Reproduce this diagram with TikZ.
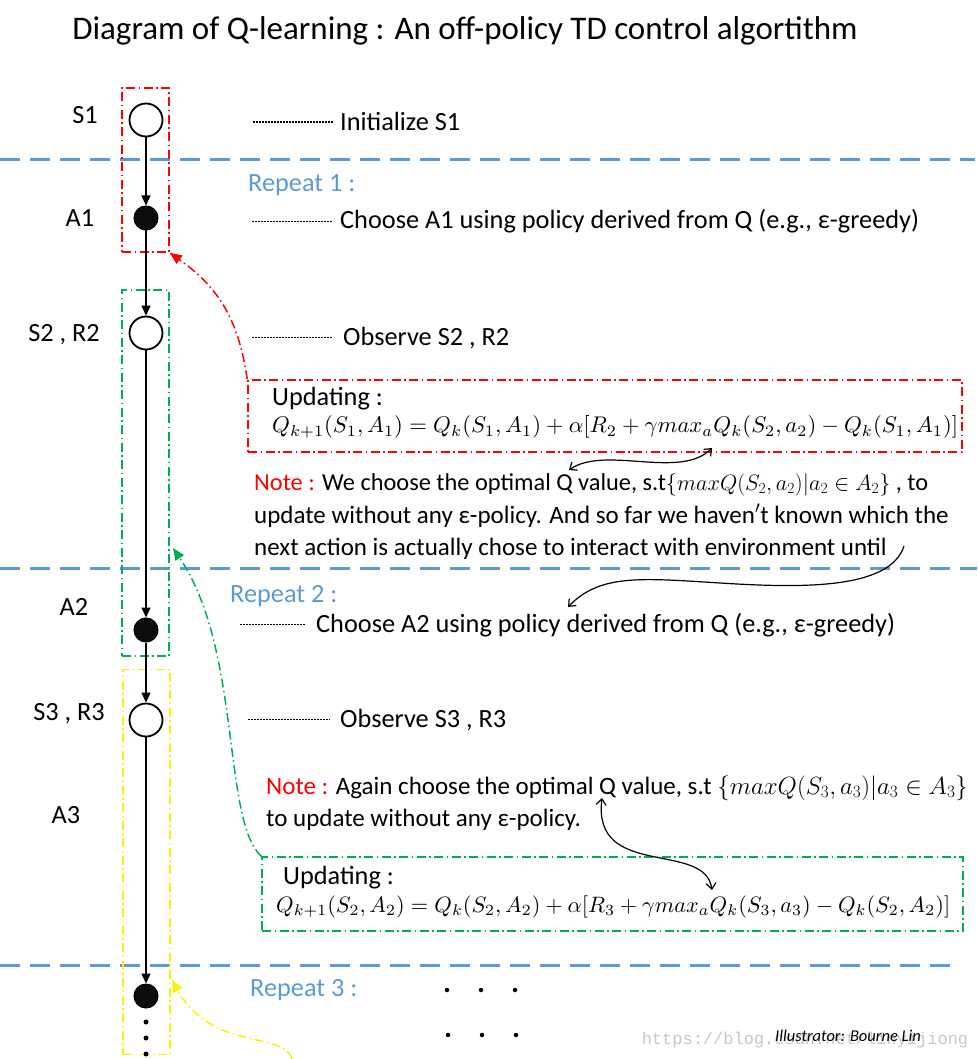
\documentclass[tikz,border=0pt]{standalone}
\usepackage{fontspec}
\setmainfont{Carlito}
\newfontfamily\wmfont{Liberation Mono}
\usetikzlibrary{arrows.meta,calc}
\definecolor{sepblue}{RGB}{91,155,213}
\definecolor{boxred}{RGB}{255,0,0}
\definecolor{boxgreen}{RGB}{0,176,80}
\definecolor{boxyellow}{RGB}{255,240,0}
\tikzset{
  snode/.style={circle, draw, line width=1.8pt, fill=white, minimum size=33pt, inner sep=0pt},
  anode/.style={circle, draw, line width=1pt, fill=black!95, minimum size=24pt, inner sep=0pt},
  dotn/.style={circle, fill=black, minimum size=5pt, inner sep=0pt},
  flow/.style={-{Triangle[length=10pt,width=9pt]}, line width=1.3pt},
  dashdot/.style={dash pattern=on 9pt off 3.5pt on 1.5pt off 3.5pt, line width=1.5pt},
  sepline/.style={draw=sepblue, dash pattern=on 20pt off 10pt, line width=3pt},
  txt/.style={anchor=base west, inner sep=0pt, font=\fontsize{26.3}{30}\selectfont},
  ntxt/.style={anchor=base west, inner sep=0pt, font=\fontsize{25}{29}\selectfont},
  lab/.style={anchor=base, inner sep=0pt, font=\fontsize{26.3}{30}\selectfont},
  leader/.style={dash pattern=on 1.5pt off 1.5pt, line width=1.1pt},
  curv/.style={line width=1.2pt},
  barbs/.style={{Straight Barb[length=6pt,width=10pt]}-{Straight Barb[length=6pt,width=10pt]}},
  barbe/.style={-{Straight Barb[length=6pt,width=10pt]}},
  fb/.style={dashdot, draw=#1, -{Triangle[length=12pt,width=10pt,fill=#1]}},
}
\begin{document}
\begin{tikzpicture}[x=1pt,y=-1pt]
\useasboundingbox (0,0) rectangle (977,1059);

% title
\node[font=\fontsize{33}{38}\selectfont] (title) at (465,31) {Diagram of Q-learning : An off-policy TD control algortithm};

% separators
\coordinate (sepAl) at (0,160); \coordinate (sepAr) at (975,160);
\coordinate (sepBl) at (0,568); \coordinate (sepBr) at (977,568);
\coordinate (sepCl) at (0,965); \coordinate (sepCr) at (955,965);
\draw[sepline] (sepAl) -- (sepAr);
\draw[sepline] (sepBl) -- (sepBr);
\draw[sepline] (sepCl) -- (sepCr);

% left boxes
\node[draw=boxred, dashdot, minimum width=47pt, minimum height=164pt, inner sep=0pt] (rbox) at (145.5,170) {};
\node[draw=boxgreen, dashdot, minimum width=47pt, minimum height=366pt, inner sep=0pt] (gbox) at (145.5,473) {};
\node[draw=boxyellow, dashdot, minimum width=47pt, minimum height=385pt, inner sep=0pt] (ybox) at (146.5,862) {};

% chain
\node[snode] (s1) at (146,120) {};
\node[anode] (a1) at (146,218) {};
\node[snode] (s2) at (146,333) {};
\node[anode] (a2) at (146,630) {};
\node[snode] (s3) at (146,720) {};
\node[anode] (a4) at (146,996) {};
\node[dotn] (d1) at (146,1022) {};
\node[dotn] (d2) at (146,1038) {};
\node[dotn] (d3) at (146,1054) {};
\draw[flow] (s1) -- (a1);
\draw[flow] (a1) -- (s2);
\draw[flow] (s2) -- (a2);
\draw[flow] (a2) -- (s3);
\draw[flow] (s3) -- (a4);

% left labels
\node[lab] (ls1) at (85,123.5) {S1};
\node[lab] (la1) at (80,226.5) {A1};
\node[lab] (ls2) at (64,341.5) {S2 , R2};
\node[lab] (la2) at (74,615.5) {A2};
\node[lab] (ls3) at (69,720.5) {S3 , R3};
\node[lab] (la3) at (66,823.5) {A3};

% right texts
\node[txt] (init) at (340,131) {Initialize S1};
\draw[leader] ([xshift=-87pt]init.west) -- ([xshift=-7pt]init.west);
\node[txt, text=sepblue] (rep1) at (248,192) {Repeat 1 :};
\node[txt] (ch1) at (340,228.5) {Choose A1 using policy derived from Q (e.g., ε-greedy)};
\draw[leader] ([xshift=-88pt]ch1.west) -- ([xshift=-7pt]ch1.west);
\node[txt] (obs2) at (343,345) {Observe S2 , R2};
\draw[leader] ([xshift=-91pt]obs2.west) -- ([xshift=-10pt]obs2.west);

% update box 1
\node[draw=boxred, dashdot, minimum width=714pt, minimum height=72pt, inner sep=0pt] (upd1) at (605,416) {};
\node[txt] (u1t) at (272,405) {Updating :};
\node[anchor=west, inner sep=0pt] (f1) at (272,427) {\resizebox{686pt}{!}{$Q_{k+1}(S_1,A_1)=Q_k(S_1,A_1)+\alpha[R_2+\gamma max_aQ_k(S_2,a_2)-Q_k(S_1,A_1)]$}};

% note 1
\node[ntxt] (n1a) at (254,490) {\resizebox{674pt}{!}{\textcolor{boxred}{Note :} We choose the optimal Q value, s.t\scalebox{0.92}{$\{maxQ(S_2,a_2)|a_2\in A_2\}$} , to}};
\node[ntxt] (n1b) at (254,523) {update without any ε-policy. And so far we haven$'$t known which the};
\node[ntxt] (n1c) at (254,555) {next action is actually chose to interact with environment until};

% repeat 2
\node[txt, text=sepblue] (rep2) at (230,602) {Repeat 2 :};
\node[txt] (ch2) at (316,632) {Choose A2 using policy derived from Q (e.g., ε-greedy)};
\draw[leader] ([xshift=-76pt]ch2.west) -- ([xshift=-11pt]ch2.west);
\node[txt] (obs3) at (340,727) {Observe S3 , R3};
\draw[leader] ([xshift=-92pt]obs3.west) -- ([xshift=-10pt]obs3.west);

% note 2
\node[ntxt] (n2a) at (266,794) {\textcolor{boxred}{Note :} Again choose the optimal Q value, s.t $\{maxQ(S_3,a_3)|a_3\in A_3\}$};
\node[ntxt] (n2b) at (266,826) {to update without any ε-policy.};

% update box 2
\node[draw=boxgreen, dashdot, minimum width=701pt, minimum height=74pt, inner sep=0pt] (upd2) at (612.5,894) {};
\node[txt] (u2t) at (283,884) {Updating :};
\node[anchor=west, inner sep=0pt] (f2) at (276,907) {\resizebox{674pt}{!}{$Q_{k+1}(S_2,A_2)=Q_k(S_2,A_2)+\alpha[R_3+\gamma max_aQ_k(S_3,a_3)-Q_k(S_2,A_2)]$}};

% repeat 3
\node[txt, text=sepblue] (rep3) at (250,996) {Repeat 3 :};
\node[dotn, minimum size=4.5pt] (e1) at (447,990) {};
\node[dotn, minimum size=4.5pt] (e2) at (481,990) {};
\node[dotn, minimum size=4.5pt] (e3) at (515,990) {};
\node[dotn, minimum size=4.5pt] (e4) at (448,1035) {};
\node[dotn, minimum size=4.5pt] (e5) at (482,1035) {};
\node[dotn, minimum size=4.5pt] (e6) at (516,1035) {};

% watermark and credit
\node[font=\wmfont\fontsize{17}{20}\selectfont, text=black!22] (wm) at (805,1040) {https://blog.csdn.net/linyijiong};
\node[font=\fontsize{16.5}{19}\selectfont\itshape] (illus) at (848,1036) {Illustrator: Bourne Lin};

% coloured feedback arrows
\coordinate (gtip) at (173,548);
\coordinate (ystart) at (292,1059);
\coordinate (ytip) at (172,980);
\draw[fb=boxred] (upd1.north west) .. controls (238,315) and (215,285) .. (rbox.south east);
\draw[fb=boxgreen] (upd2.north west) .. controls (222,820) and (242,650) .. (gtip);
\draw[fb=boxyellow] (ystart) .. controls (282,1030) and (212,1052) .. (ytip);

% black curved arrows
\coordinate (qn1) at (569,470);
\coordinate (qf1) at (712,448);
\coordinate (untilend) at (904,546);
\coordinate (using2) at (568,607);
\coordinate (qn2) at (602,798);
\coordinate (qf2) at (712,890);
\draw[curv, barbs] (qn1) .. controls (605,445) and (680,480) .. (qf1);
\draw[curv, barbe] (untilend) .. controls (890,590) and (800,588) .. (720,583) .. controls (640,578) and (600,574) .. (using2);
\draw[curv, barbs] (qn2) .. controls (592,880) and (705,840) .. (qf2);
\end{tikzpicture}
\end{document}
